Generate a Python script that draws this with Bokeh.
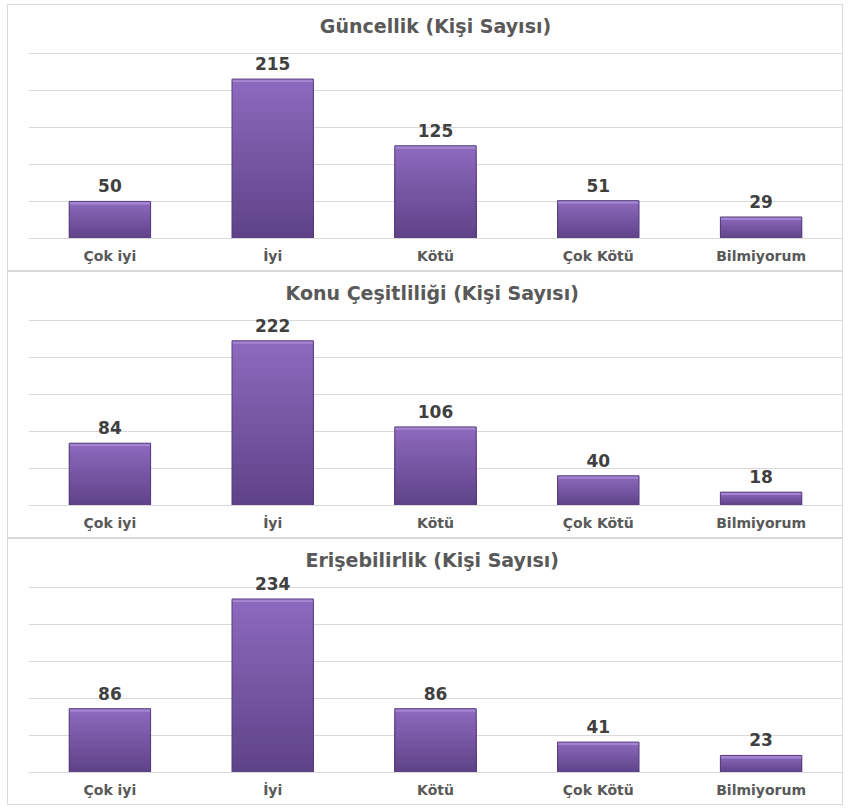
import numpy as np
from bokeh.plotting import figure
from bokeh.layouts import column
from bokeh.models import FactorRange, Range1d, FixedTicker, ColumnDataSource
from bokeh.core.properties import value
from bokeh.embed import file_html
from bokeh.resources import INLINE

categories = ["Çok iyi", "İyi", "Kötü", "Çok Kötü", "Bilmiyorum"]
guncellik = [50, 215, 125, 51, 29]
konu_cesitliligi = [84, 222, 106, 40, 18]
erisebilirlik = [86, 234, 86, 41, 23]
titles = ["Güncellik (Kişi Sayısı)",
          "Konu Çeşitliliği  (Kişi Sayısı)",
          "Erişebilirlik  (Kişi Sayısı)"]
y_ticks = [0, 50, 100, 150, 200, 250]

FONT = "DejaVu Sans"
LIGHT = np.array([0x8e, 0x6a, 0xbe])
DARK = np.array([0x5e, 0x42, 0x88])
N_STRIPS = 24


def hexcol(c):
    return "#%02x%02x%02x" % tuple(int(round(x)) for x in c)


def make_chart(title, values):
    p = figure(x_range=FactorRange(*categories, range_padding=0),
               y_range=Range1d(0, 267),
               width=836, height=267,
               output_backend="svg", toolbar_location=None,
               min_border_top=35, min_border_bottom=34,
               min_border_left=20, min_border_right=2,
               styles={"border": "1px solid #d9d9d9"})
    p.title.text = title
    p.title.align = "center"
    p.title.text_font = FONT
    p.title.text_font_style = "bold"
    p.title.text_font_size = "19px"
    p.title.text_color = "#595959"
    p.title.standoff = 8
    p.outline_line_color = None
    p.background_fill_color = "white"
    p.border_fill_color = "white"

    p.yaxis.visible = False
    p.ygrid.ticker = FixedTicker(ticks=y_ticks)
    p.ygrid.grid_line_color = "#d9d9d9"
    p.xgrid.grid_line_color = None

    ax = p.xaxis[0]
    ax.axis_line_color = "#d9d9d9"
    ax.major_tick_line_color = None
    ax.minor_tick_line_color = None
    ax.major_label_text_font = FONT
    ax.major_label_text_font_style = "bold"
    ax.major_label_text_font_size = "14px"
    ax.major_label_text_color = "#595959"
    ax.major_label_standoff = 3

    vals = np.array(values, dtype=float)
    # vertical gradient: nested bars from the top down, each overdrawn by the next
    for i in range(N_STRIPS, 0, -1):
        hi = i / N_STRIPS
        t = (i - 0.5) / N_STRIPS
        col = hexcol(DARK + (LIGHT - DARK) * t)
        src = ColumnDataSource(dict(x=categories, top=vals * hi))
        p.vbar(x="x", top="top", bottom=0, width=0.5, source=src,
               fill_color=col, line_color=None)
    # top bevel
    bev = ColumnDataSource(dict(x=categories, top=vals, bottom=np.maximum(vals - 4, 0)))
    p.vbar(x="x", top="top", bottom="bottom", width=0.5, source=bev,
           fill_color="#a385d2", line_color=None)
    # outline
    p.vbar(x=categories, top=vals, bottom=0, width=0.5,
           fill_color=None, line_color="#553c7c", line_width=1)

    lab = ColumnDataSource(dict(x=categories, y=vals, t=[str(v) for v in values]))
    p.text(x="x", y="y", text="t", source=lab, text_align="center",
           text_baseline="bottom", y_offset=-9,
           text_font=value(FONT), text_font_style="bold",
           text_font_size="17px", text_color="#404040")
    return p


p1 = make_chart(titles[0], guncellik)
p2 = make_chart(titles[1], konu_cesitliligi)
p3 = make_chart(titles[2], erisebilirlik)

layout = column(p1, p2, p3, spacing=0, margin=(4, 0, 0, 7))
open("out.html", "w").write(file_html(layout, INLINE))
